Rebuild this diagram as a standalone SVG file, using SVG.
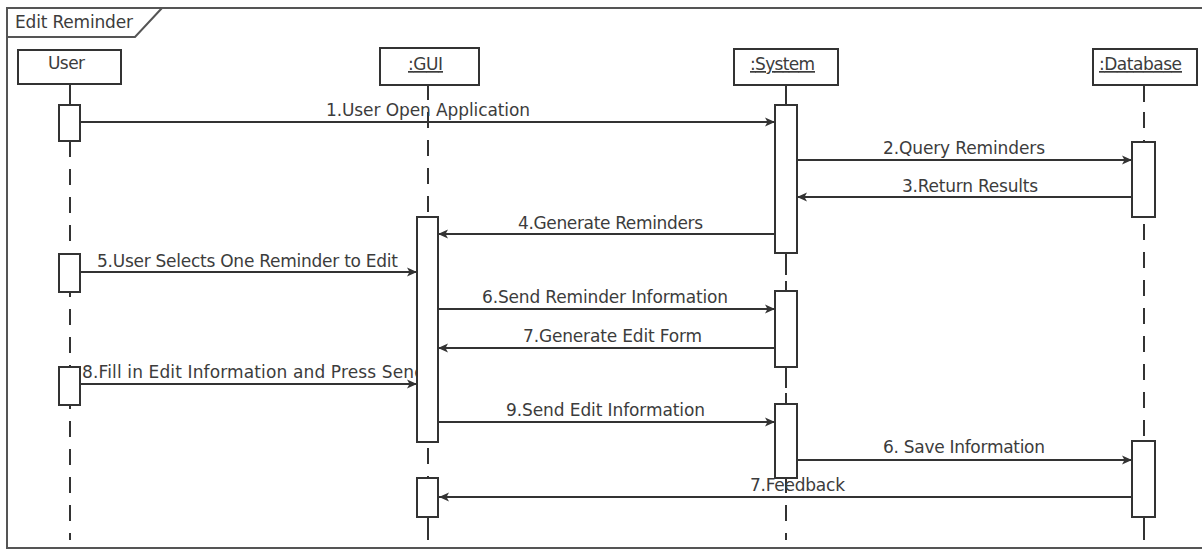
<svg xmlns="http://www.w3.org/2000/svg" width="1202" height="552" viewBox="0 0 1202 552">
<defs>
<marker id="ah" markerUnits="userSpaceOnUse" markerWidth="12" markerHeight="12" refX="10" refY="5" orient="auto">
<path d="M0,0.5 L10,5 L0,9.5 L2.5,5 Z" fill="#333"/>
</marker>
<style>
.t{font-family:"DejaVu Sans","Liberation Sans",sans-serif;font-size:17px;fill:#3c3c3c}
.u{text-decoration:underline}
.box{fill:#fff;stroke:#333;stroke-width:2}
.act{fill:#fff;stroke:#333;stroke-width:2}
.ll{stroke:#333;stroke-width:2;stroke-dasharray:16 12;fill:none}
.sl{stroke:#333;stroke-width:2;fill:none}
.msg{stroke:#333;stroke-width:2;fill:none;marker-end:url(#ah)}
</style>
</defs>
<rect width="1202" height="552" fill="#fff"/>
<g id="frame">
<rect x="7" y="8" width="1200" height="540" fill="none" stroke="#555" stroke-width="2"/>
<path d="M7,37 L135,37 L162,8" fill="none" stroke="#555" stroke-width="2"/>
<text class="t" x="15" y="28" textLength="118">Edit Reminder</text>
</g>
<g id="lifelines">
<line class="sl" x1="70" y1="84" x2="70" y2="105"/>
<line class="ll" x1="70" y1="141" x2="70" y2="540"/>
<line class="sl" x1="428" y1="85" x2="428" y2="100"/>
<line class="ll" x1="428" y1="112" x2="428" y2="540"/>
<line class="sl" x1="786" y1="85" x2="786" y2="105"/>
<line class="ll" x1="786" y1="253" x2="786" y2="540"/>
<line class="sl" x1="786" y1="253" x2="786" y2="275"/>
<line class="sl" x1="786" y1="367" x2="786" y2="388"/>
<line class="sl" x1="786" y1="478" x2="786" y2="488"/>
<line class="sl" x1="428" y1="517" x2="428" y2="537"/>
<line class="sl" x1="1144" y1="85" x2="1144" y2="102"/>
<line class="ll" x1="1144" y1="112" x2="1144" y2="540"/>
<line class="sl" x1="1144" y1="517" x2="1144" y2="537"/>
</g>
<g id="node-user">
<rect class="box" x="18" y="50" width="103" height="34"/>
<text class="t" x="48" y="69" textLength="37">User</text>
</g>
<g id="node-gui">
<rect class="box" x="380" y="48" width="99" height="37"/>
<text class="t u" x="408" y="70" textLength="35">:GUI</text>
</g>
<g id="node-system">
<rect class="box" x="734" y="49" width="104" height="36"/>
<text class="t u" x="750" y="70" textLength="65">:System</text>
</g>
<g id="node-database">
<rect class="box" x="1093" y="49" width="104" height="36"/>
<text class="t u" x="1099" y="70" textLength="83">:Database</text>
</g>
<g id="connectors">
<line class="msg" x1="80" y1="122" x2="775" y2="122"/>
<line class="msg" x1="797" y1="160" x2="1132" y2="160"/>
<line class="msg" x1="1132" y1="197" x2="797" y2="197"/>
<line class="msg" x1="775" y1="234" x2="438" y2="234"/>
<line class="msg" x1="80" y1="272" x2="417" y2="272"/>
<line class="msg" x1="438" y1="309" x2="775" y2="309"/>
<line class="msg" x1="775" y1="348" x2="438" y2="348"/>
<line class="msg" x1="80" y1="384" x2="417" y2="384"/>
<line class="msg" x1="438" y1="422" x2="775" y2="422"/>
<line class="msg" x1="797" y1="460" x2="1132" y2="460"/>
<line class="msg" x1="1132" y1="497" x2="439" y2="497"/>
<text class="t" x="326" y="116" textLength="204">1.User Open Application</text>
<text class="t" x="883" y="154" textLength="162">2.Query Reminders</text>
<text class="t" x="902" y="192" textLength="136">3.Return Results</text>
<text class="t" x="518" y="229" textLength="185">4.Generate Reminders</text>
<text class="t" x="97" y="267" textLength="301">5.User Selects One Reminder to Edit</text>
<text class="t" x="482" y="303" textLength="246">6.Send Reminder Information</text>
<text class="t" x="523" y="342" textLength="179">7.Generate Edit Form</text>
<text class="t" x="82" y="378" textLength="343">8.Fill in Edit Information and Press Send</text>
<text class="t" x="506" y="416" textLength="199">9.Send Edit Information</text>
<text class="t" x="883" y="453" textLength="162">6. Save Information</text>
</g>
<g id="activations">
<rect class="act" x="59" y="105" width="21" height="36"/>
<rect class="act" x="59" y="254" width="21" height="38"/>
<rect class="act" x="59" y="367" width="21" height="38"/>
<rect class="act" x="417" y="217" width="21" height="225"/>
<rect class="act" x="417" y="478" width="21" height="39"/>
<rect class="act" x="775" y="105" width="22" height="148"/>
<rect class="act" x="775" y="291" width="22" height="76"/>
<rect class="act" x="775" y="404" width="22" height="74"/>
<rect class="act" x="1132" y="142" width="23" height="75"/>
<rect class="act" x="1132" y="441" width="23" height="76"/>
</g>
<g id="feedback-label">
<text class="t" x="750" y="491" textLength="95">7.Feedback</text>
</g>
</svg>
